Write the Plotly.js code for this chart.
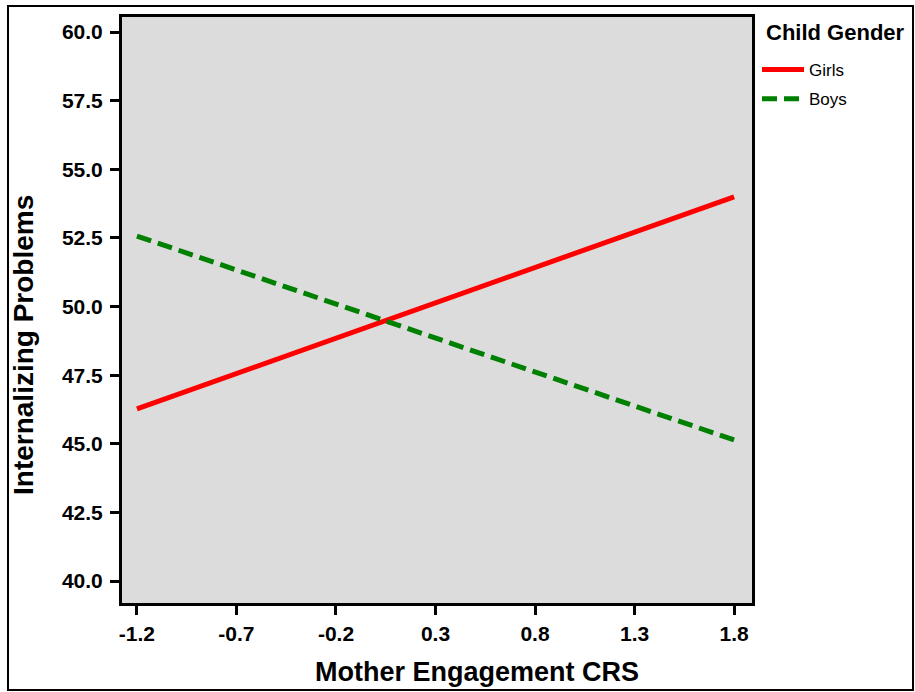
<!DOCTYPE html>
<html><head><meta charset="utf-8">
<script src="https://cdn.plot.ly/plotly-3.0.1.min.js"></script>
<style>body{margin:0;padding:0;background:#fff}#chart{width:915px;height:692px}</style>
</head><body><div id="chart"></div>
<script>
const xValues = [-1.2, 1.8];
const girls = [46.27, 54.0];
const boys = [52.57, 45.14];
const xTicks = [-1.2, -0.7, -0.2, 0.3, 0.8, 1.3, 1.8];
const yTicks = [40, 42.5, 45, 47.5, 50, 52.5, 55, 57.5, 60];
const xTitle = 'Mother Engagement CRS';
const yTitle = 'Internalizing Problems';
const legendTitle = 'Child Gender';

const font = "Liberation Sans, Arial, sans-serif";
const W = 915, H = 692, L = 122, R = 163, T = 17, B = 89;
const pw = W - L - R, ph = H - T - B;
const px = v => (v - L) / pw;
const py = v => 1 - (v - T) / ph;

const traces = [
  {x: xValues, y: girls, mode: 'lines', name: 'Girls', legendgroup: 'g', line: {color: '#ff0000', width: 5}},
  {x: xValues, y: boys, mode: 'lines', name: 'Boys', legendgroup: 'b', line: {color: '#008000', width: 5, dash: '15px,7px'}}
];
const layout = {
  width: W, height: H,
  margin: {l: L, r: R, t: T, b: B},
  paper_bgcolor: '#ffffff', plot_bgcolor: '#dcdcdc',
  font: {family: font, color: '#000'},
  showlegend: true,
  legend: {x: px(757), xanchor: 'left', y: py(52), yanchor: 'top', traceorder: 'grouped', tracegroupgap: 4,
    itemwidth: 42, font: {size: 17, family: font}, bgcolor: 'rgba(0,0,0,0)'},
  xaxis: {range: [-1.275, 1.89], tickvals: xTicks, ticktext: xTicks.map(v => v.toFixed(1)),
    showgrid: false, zeroline: false, showline: true, linewidth: 3, linecolor: '#000', mirror: true,
    ticks: 'outside', ticklen: 9, tickwidth: 3, tickcolor: '#000', ticklabelstandoff: 1,
    tickfont: {size: 21, family: font, weight: 'bold'}},
  yaxis: {range: [39.2, 60.55], tickvals: yTicks, ticktext: yTicks.map(v => v.toFixed(1)),
    showgrid: false, zeroline: false, showline: true, linewidth: 3, linecolor: '#000', mirror: true,
    ticks: 'outside', ticklen: 9, tickwidth: 3, tickcolor: '#000', ticklabelstandoff: 3,
    tickfont: {size: 21, family: font, weight: 'bold'}},
  annotations: [
    {text: '<b>' + xTitle + '</b>', xref: 'paper', yref: 'paper', x: px(477), y: py(672),
      xanchor: 'center', yanchor: 'middle', showarrow: false, font: {size: 27, family: font}},
    {text: '<b>' + yTitle + '</b>', xref: 'paper', yref: 'paper', x: px(23), y: py(345),
      xanchor: 'center', yanchor: 'middle', textangle: -90, showarrow: false, font: {size: 28, family: font}},
    {text: '<b>' + legendTitle + '</b>', xref: 'paper', yref: 'paper', x: px(764), y: py(33),
      xanchor: 'left', yanchor: 'middle', showarrow: false, font: {size: 22, family: font}}
  ],
  shapes: [{type: 'rect', xref: 'paper', yref: 'paper',
    x0: px(8), x1: px(913), y0: py(690), y1: py(6),
    line: {color: '#000', width: 2}, fillcolor: 'rgba(0,0,0,0)', layer: 'below'}]
};
Plotly.newPlot('chart', traces, layout, {displayModeBar: false, staticPlot: true});
</script></body></html>
